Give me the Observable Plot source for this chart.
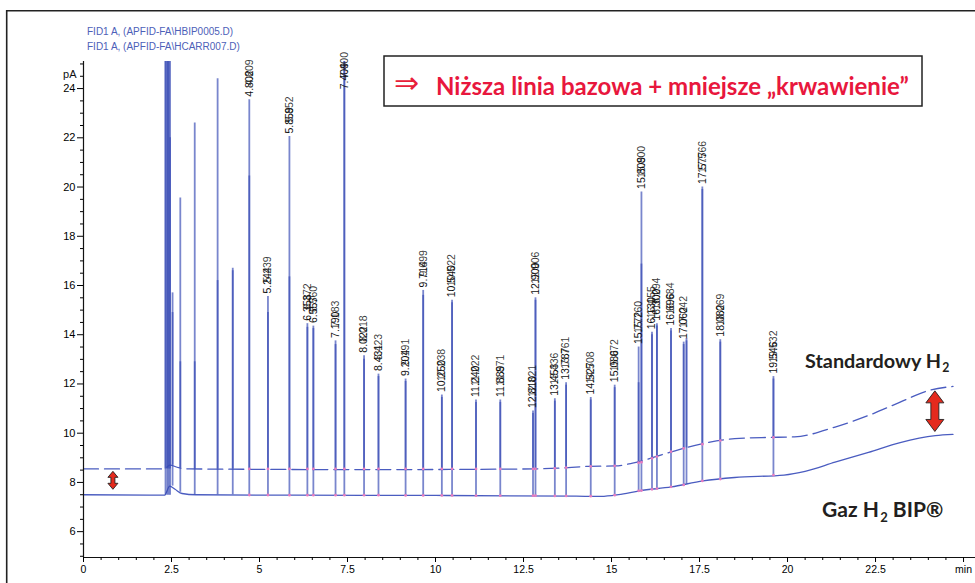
<!DOCTYPE html>
<html><head><meta charset="utf-8">
<script src="https://cdn.jsdelivr.net/npm/d3@7"></script>
<script src="https://cdn.jsdelivr.net/npm/@observablehq/plot@0.6"></script>
<style>
html,body{margin:0;padding:0;background:#fff;}
#wrap{position:relative;width:975px;height:583px;overflow:hidden;background:#fff;}
#wrap svg{position:absolute;left:0;top:0;}
</style></head><body><div id="wrap"></div>
<script>
// ---- header / annotation texts ----
const headerLines = ["FID1 A, (APFID-FA\\HBIP0005.D)", "FID1 A, (APFID-FA\\HCARR007.D)"];
const boxText = "Niższa linia bazowa + mniejsze „krwawienie”";
const stdName = ["Standardowy H", "2"];
const bipName = ["Gaz H", "2", " BIP®"];

// ---- axes ----
const xMajor = [0, 2.5, 5, 7.5, 10, 12.5, 15, 17.5, 20, 22.5, 25];
const xTickLabels = ["0", "2.5", "5", "7.5", "10", "12.5", "15", "17.5", "20", "22.5", "min"];
const yMajor = [6, 8, 10, 12, 14, 16, 18, 20, 22, 24];

// ---- baselines ----
const bipT = [0, 2.3, 2.45, 2.6, 2.8, 3.2, 6, 10, 14, 14.7, 15.2, 15.8, 16.7, 17.6, 18.5, 19.9, 20.5, 21.35, 22.3, 23.2, 24.2, 24.7];
const bipV = [7.5, 7.48, 7.85, 7.72, 7.55, 7.5, 7.48, 7.47, 7.44, 7.43, 7.5, 7.66, 7.82, 8.06, 8.2, 8.3, 8.45, 8.82, 9.22, 9.62, 9.9, 9.95];
const stdT = [0, 2.3, 2.45, 2.7, 3.0, 8, 12.8, 13.5, 14.3, 15.1, 15.6, 16.6, 17.5, 18.5, 19.5, 20.2, 21.35, 22.3, 23.2, 24.0, 24.7];
const stdV = [8.55, 8.55, 8.7, 8.6, 8.55, 8.52, 8.55, 8.58, 8.65, 8.67, 8.78, 9.2, 9.55, 9.78, 9.83, 9.85, 10.25, 10.72, 11.26, 11.73, 11.9];

// ---- peaks ----
const peakTime = [2.33, 2.38, 2.42, 2.46, 2.53, 2.75, 3.16, 3.81, 4.24, 4.71, 5.24, 5.85, 6.36, 6.53, 7.16, 7.41, 7.97, 8.38, 9.15, 9.65, 10.18, 10.47, 11.15, 11.84, 12.77, 12.84, 13.39, 13.71, 14.41, 15.09, 15.77, 15.85, 16.15, 16.29, 16.69, 17.05, 17.13, 17.58, 18.09, 19.6];
const apexStd = [26, 26, 26, 26, 15.7, 19.55, 22.6, 24.4, 16.7, 23.55, 15.55, 22.05, 14.45, 14.35, 13.75, 26, 13.15, 12.4, 12.2, 15.8, 11.55, 15.4, 11.35, 11.35, 10.9, 15.5, 11.4, 12.05, 11.45, 11.95, 13.5, 19.8, 14.1, 14.45, 14.25, 13.7, 13.85, 20.0, 13.8, 12.3];
const apexBip = [26, 26, 26, 22, 14.9, 12.9, 12.9, 16.2, 16.6, 20.45, 14.9, 16.35, 14.3, 14.25, 13.6, 26, 13.0, 12.3, 12.1, 15.6, 11.45, 15.3, 11.25, 11.25, 10.8, 15.4, 11.3, 11.95, 11.35, 11.85, 12.05, 16.87, 14.0, 14.35, 14.15, 13.6, 13.75, 19.9, 13.7, 12.2];
const stdBase = [8.55, 8.55, 8.55, 8.55, 8.7, 8.6, 8.55, 8.55, 8.55, 8.55, 8.55, 8.55, 8.55, 8.55, 8.55, 8.55, 8.55, 8.55, 8.55, 8.55, 8.55, 8.55, 8.55, 8.55, 8.55, 8.55, 8.57, 8.6, 8.65, 8.67, 8.8, 8.82, 8.98, 9.05, 9.25, 9.38, 9.4, 9.55, 9.7, 9.83];
const bipBase = [7.48, 7.48, 7.48, 7.48, 7.85, 7.6, 7.5, 7.5, 7.5, 7.49, 7.49, 7.48, 7.48, 7.48, 7.48, 7.48, 7.48, 7.48, 7.47, 7.47, 7.47, 7.47, 7.46, 7.46, 7.46, 7.46, 7.45, 7.45, 7.44, 7.48, 7.66, 7.67, 7.72, 7.75, 7.82, 7.9, 7.93, 8.06, 8.14, 8.3];
const labelA = ["", "", "", "", "", "", "", "", "", "4.802", "5.244", "5.859", "6.358", "6.557", "7.190", "7.409", "8.022", "8.431", "9.204", "9.714", "10.250", "10.540", "11.240", "11.889", "12.810", "12.900", "13.453", "13.787", "14.527", "15.086", "15.772", "15.809", "16.130", "16.300", "16.696", "17.062", "", "17.577", "18.082", "19.546"];
const labelB = ["", "", "", "", "", "", "", "", "", "4.809", "5.239", "5.852", "6.372", "6.560", "7.183", "7.400", "8.018", "8.423", "9.191", "9.699", "10.238", "10.522", "11.222", "11.871", "12.821", "12.906", "13.436", "13.761", "14.508", "15.072", "15.760", "15.800", "16.155", "16.294", "16.684", "17.042", "", "17.566", "18.069", "19.532"];

// ---- red arrows (x, top, bottom in data units) ----
const arrowX = [0.85, 24.2];
const arrowTop = [8.43, 11.7];
const arrowBottom = [7.7, 10.05];

const idx = d3.range(peakTime.length);
const labeled = idx.filter(i => labelA[i] !== "");
const labelY = i => Math.min(Math.max(apexStd[i], apexBip[i]), 23.85);

function arrowMark(k, w, head, shaft) {
  return (index, scales) => {
    const x = scales.x(arrowX[k]);
    const top = scales.y(arrowTop[k]);
    const bot = scales.y(arrowBottom[k]);
    const p = [[x, top], [x + w / 2, top + head], [x + shaft / 2, top + head], [x + shaft / 2, bot - head], [x + w / 2, bot - head], [x, bot], [x - w / 2, bot - head], [x - shaft / 2, bot - head], [x - shaft / 2, top + head], [x - w / 2, top + head]];
    const path = document.createElementNS("http://www.w3.org/2000/svg", "path");
    path.setAttribute("d", "M" + p.map(q => q.join(",")).join("L") + "Z");
    path.setAttribute("fill", "#e42a1d");
    path.setAttribute("stroke", "#222");
    path.setAttribute("stroke-width", "0.9");
    path.setAttribute("stroke-linejoin", "miter");
    return path;
  };
}

const stdLine = stdT.map((t, i) => ({t, v: stdV[i]}));
const bipLine = bipT.map((t, i) => ({t, v: bipV[i]}));
const blue = "#3a4cb6";

const chart = Plot.plot({
  width: 975, height: 583,
  marginLeft: 83, marginRight: 0, marginTop: 61, marginBottom: 26,
  x: {domain: [0, 25.34], axis: null},
  y: {domain: [4.95, 25.1], axis: null},
  style: {fontFamily: "Arial, 'Liberation Sans', sans-serif", fontSize: "11px", background: "transparent", overflow: "visible"},
  marks: [
    // baselines
    Plot.line(stdLine, {x: "t", y: "v", stroke: "#4a5cc0", strokeWidth: 1.3, strokeDasharray: "15,6", curve: "monotone-x"}),
    Plot.line(bipLine, {x: "t", y: "v", stroke: "#4a5cc0", strokeWidth: 1.3, curve: "monotone-x"}),
    // peaks of both runs
    Plot.ruleX(idx, {x: i => peakTime[i], y1: i => stdBase[i], y2: i => apexStd[i], stroke: blue, strokeOpacity: 0.68, strokeWidth: 1.8, clip: true}),
    Plot.ruleX(idx, {x: i => peakTime[i], y1: i => bipBase[i], y2: i => apexBip[i], stroke: blue, strokeOpacity: 0.68, strokeWidth: 1.8, clip: true}),
    // integration markers
    Plot.dot(labeled, {x: i => peakTime[i], y: i => stdBase[i], r: 1.4, fill: "#e67cc0", stroke: null}),
    Plot.dot(labeled, {x: i => peakTime[i], y: i => bipBase[i], r: 1.4, fill: "#e67cc0", stroke: null}),
    // retention time labels
    Plot.text(labeled, {x: i => peakTime[i], y: labelY, text: i => labelA[i], rotate: -90, textAnchor: "start", dy: -3, fontSize: 10.5, fill: "#111"}),
    Plot.text(labeled.filter(i => labelB[i] !== ""), {x: i => peakTime[i], y: labelY, text: i => labelB[i], rotate: -90, textAnchor: "start", dy: -14, fontSize: 10.5, fill: "#111", fillOpacity: 0.85}),
    // axes
    Plot.ruleX([0], {stroke: "#111", strokeWidth: 1.2}),
    Plot.ruleY([4.95], {stroke: "#111", strokeWidth: 1.2}),
    Plot.axisY(yMajor, {tickSize: 6, tickPadding: 2, fontSize: 11, label: null}),
    Plot.axisY(d3.range(5, 25.01, 0.5).filter(v => !yMajor.includes(v)), {tickSize: 3, tickFormat: () => "", label: null}),
    Plot.axisX(xMajor, {tickSize: 5, tickPadding: 3, fontSize: 10.5, tickFormat: (d, i) => xTickLabels[xMajor.indexOf(d)], label: null}),
    Plot.axisX(d3.range(0, 25.01, 0.5).filter(v => !xMajor.includes(v)), {tickSize: 3, tickFormat: () => "", label: null}),
    Plot.text(["pA"], {frameAnchor: "top-left", dx: -7, dy: 9, textAnchor: "end", fontSize: 11, fill: "#111"}),
    // red arrows
    arrowMark(0, 10, 6, 4),
    arrowMark(1, 18, 12, 8)
  ]
});

const wrap = document.getElementById("wrap");
wrap.appendChild(chart);

// ---- overlay: frame, header, annotation box and names ----
const ov = d3.create("svg").attr("width", 975).attr("height", 583).attr("viewBox", "0 0 975 583");
wrap.appendChild(ov.node());
ov.append("path").attr("d", "M6.7,583 L6.7,10.7 L975,10.7").attr("fill", "none").attr("stroke", "#222").attr("stroke-width", 1.6);
headerLines.forEach((t, i) => {
  ov.append("text").attr("x", 87).attr("y", 35 + i * 14.5).attr("font-family", "Arial, 'Liberation Sans', sans-serif")
    .attr("font-size", 10).attr("fill", "#4d60b8").text(t);
});
ov.append("rect").attr("x", 384).attr("y", 56).attr("width", 538).attr("height", 50).attr("fill", "#fff").attr("stroke", "#222").attr("stroke-width", 1.5);
ov.append("text").attr("x", 394).attr("y", 93).attr("font-family", "'DejaVu Sans', sans-serif").attr("font-size", 30).attr("font-weight", 200).attr("fill", "#e8203a").text("⇒");
const bt = ov.append("text").attr("x", 436).attr("y", 95).attr("font-family", "Lato, 'Open Sans', sans-serif").attr("font-weight", 700).attr("font-size", 24).attr("fill", "#e8173d").text(boxText);

const sn = ov.append("text").attr("x", 805).attr("y", 368).attr("font-family", "Lato, 'Open Sans', sans-serif").attr("font-weight", 700).attr("font-size", 22).attr("fill", "#231f20");
const snMain = sn.append("tspan").text(stdName[0]);
sn.append("tspan").attr("font-size", "0.62em").attr("dy", "0.35em").attr("dx", "0.1em").text(stdName[1]);

const gn = ov.append("text").attr("x", 822).attr("y", 517).attr("font-family", "Lato, 'Open Sans', sans-serif").attr("font-weight", 700).attr("font-size", 22).attr("fill", "#231f20");
gn.append("tspan").text(bipName[0]);
gn.append("tspan").attr("font-size", "0.62em").attr("dy", "0.35em").attr("dx", "0.1em").text(bipName[1]);
gn.append("tspan").attr("dy", "-0.22em").text(bipName[2]);

function fit(sel, measureNode, target) {
  const w = measureNode.getComputedTextLength();
  const fs = parseFloat(sel.attr("font-size"));
  if (w > 0) sel.attr("font-size", fs * target / w);
}
fit(bt, bt.node(), 473);
fit(sn, snMain.node(), 136);
fit(gn, gn.node(), 120);
</script></body></html>
